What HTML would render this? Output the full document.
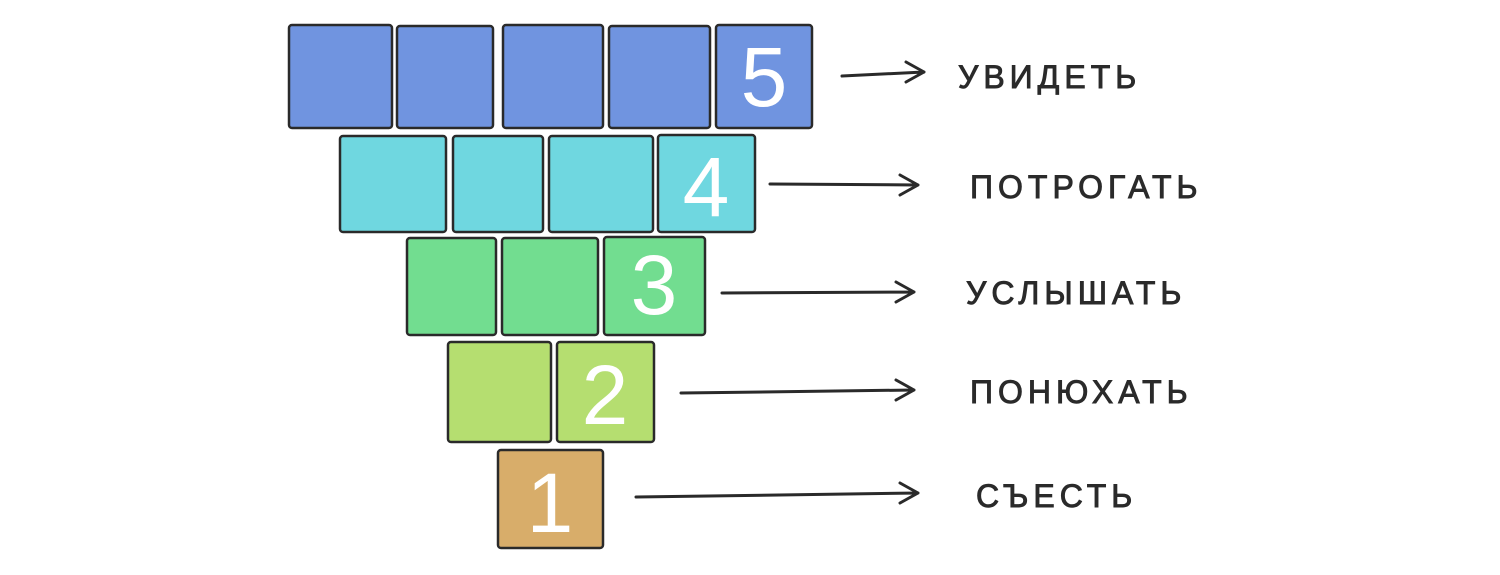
<!DOCTYPE html>
<html><head><meta charset="utf-8"><style>
html,body{margin:0;padding:0;background:#fff;}
body{width:1500px;height:575px;position:relative;overflow:hidden;}
svg{position:absolute;left:0;top:0;}
text{font-family:"Liberation Sans","DejaVu Sans",sans-serif;}
</style></head><body>
<svg width="1500" height="575" viewBox="0 0 1500 575">
<g stroke="#2a2a2a" stroke-width="2.5" stroke-linejoin="round">
<g fill="#7094e0">
<rect x="289" y="25" width="103" height="103" rx="3"/>
<rect x="397" y="26" width="96" height="102" rx="3"/>
<rect x="503" y="25" width="100" height="103" rx="3"/>
<rect x="609" y="26" width="101" height="102" rx="3"/>
<rect x="716" y="25" width="96" height="103" rx="3"/>
</g>
<g fill="#6fd7e0">
<rect x="340" y="136" width="106" height="96" rx="3"/>
<rect x="453" y="136" width="90" height="96" rx="3"/>
<rect x="549" y="136" width="104" height="96" rx="3"/>
<rect x="658" y="135" width="97" height="97" rx="3"/>
</g>
<g fill="#72dd90">
<rect x="407" y="238" width="89" height="97" rx="3"/>
<rect x="502" y="238" width="96" height="97" rx="3"/>
<rect x="604" y="237" width="101" height="98" rx="3"/>
</g>
<g fill="#b5de70">
<rect x="448" y="342" width="103" height="100" rx="3"/>
<rect x="557" y="342" width="97" height="100" rx="3"/>
</g>
<rect fill="#d8ad6a" x="498" y="450" width="105" height="98" rx="3"/>
</g>
<g fill="#fff" font-size="84" text-anchor="middle" font-weight="300">
<text x="764" y="106">5</text>
<text x="706" y="216">4</text>
<text x="654" y="314">3</text>
<text x="605" y="424">2</text>
<text x="550" y="532">1</text>
</g>
<g stroke="#2a2a2a" stroke-width="3" fill="none" stroke-linecap="round" stroke-linejoin="round">
<path d="M842 76 L924 72 M906 62 L924 72 L906 82"/>
<path d="M770 184 L918 185 M900 175 L918 185 L900 195"/>
<path d="M722 293 L914 292 M896 282 L914 292 L896 302"/>
<path d="M681 393 L914 390 M896 380 L914 390 L896 400"/>
<path d="M636 497 L918 493 M900 483 L918 493 L900 503"/>
</g>
<g fill="#2a2a2a" stroke="#2a2a2a" stroke-width="0.9" font-size="32" letter-spacing="5">
<text x="958" y="88">УВИДЕТЬ</text>
<text x="970" y="198">ПОТРОГАТЬ</text>
<text x="966" y="304">УСЛЫШАТЬ</text>
<text x="970" y="403">ПОНЮХАТЬ</text>
<text x="976" y="507">СЪЕСТЬ</text>
</g>
</svg>
</body></html>
